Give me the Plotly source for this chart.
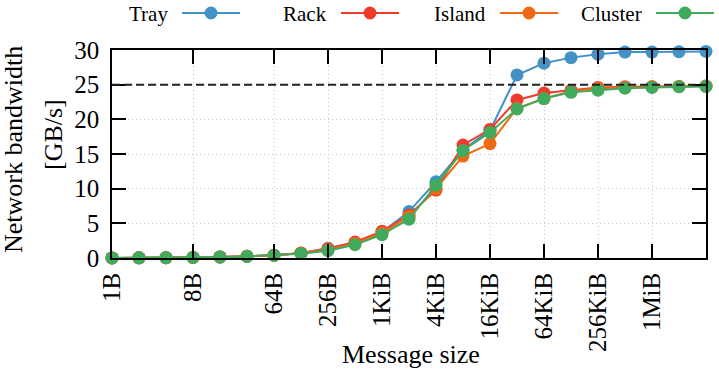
import plotly.graph_objects as go

# message sizes in bytes, 1B .. 4MiB
sizes = [2 ** i for i in range(23)]

tray = [0.01, 0.02, 0.04, 0.08, 0.15, 0.25, 0.4, 0.7, 1.4, 2.2, 3.75, 6.7,
        11.0, 15.6, 18.4, 26.4, 28.1, 28.9, 29.4, 29.7, 29.7, 29.75, 29.8]
rack = [0.01, 0.02, 0.04, 0.08, 0.15, 0.25, 0.4, 0.72, 1.35, 2.3, 3.85, 6.2,
        9.8, 16.3, 18.55, 22.8, 23.8, 24.2, 24.6, 24.7, 24.7, 24.75, 24.8]
island = [0.01, 0.02, 0.04, 0.08, 0.15, 0.25, 0.4, 0.7, 1.2, 2.1, 3.6, 6.0,
          10.0, 14.7, 16.5, 21.6, 23.0, 24.0, 24.5, 24.6, 24.7, 24.75, 24.8]
cluster = [0.01, 0.02, 0.04, 0.07, 0.14, 0.23, 0.37, 0.62, 1.06, 1.92, 3.37, 5.6,
           10.5, 15.5, 18.1, 21.5, 23.0, 23.9, 24.2, 24.5, 24.6, 24.7, 24.75]

series = [("Tray", tray, "#4292c6"), ("Rack", rack, "#ef3b2c"),
          ("Island", island, "#f16913"), ("Cluster", cluster, "#41ab5d")]

tick_vals = [1, 8, 64, 256, 1024, 4096, 16384, 65536, 262144, 1048576]
tick_text = ["1B", "8B", "64B", "256B", "1KiB", "4KiB", "16KiB", "64KiB", "256KiB", "1MiB"]
peak_line = 25

FONT = "Liberation Serif, Times New Roman, DejaVu Serif, serif"
W, H = 719, 375
# plot box in pixels: left 112, right 706, top 50, bottom 258
L, T = 112, 50
R, B = W - 706, H - 258
PW, PH = W - L - R, H - T - B

fig = go.Figure()
for name, vals, col in series:
    fig.add_trace(go.Scatter(
        x=sizes, y=vals, name=name, mode="lines+markers",
        line=dict(color=col, width=2),
        marker=dict(color=col, size=13),
        cliponaxis=False, showlegend=False,
    ))

# dashed reference line
fig.add_shape(type="line", xref="paper", x0=0, x1=1, yref="y", y0=peak_line, y1=peak_line,
              line=dict(color="#222222", width=2, dash="8px,4px"))

# pixel -> paper coords
def px_x(p):
    return (p - L) / PW

def px_y(p):
    return (H - B - p) / PH

# hand made legend: label on the left, line+marker on the right
leg_y = 13
leg_start = [182, 341, 500, 656]
for (name, vals, col), x0 in zip(series, leg_start):
    fig.add_shape(type="line", xref="paper", yref="paper",
                  x0=px_x(x0), x1=px_x(x0 + 58), y0=px_y(leg_y), y1=px_y(leg_y),
                  line=dict(color=col, width=2))
    fig.add_shape(type="circle", xref="paper", yref="paper",
                  xsizemode="pixel", ysizemode="pixel",
                  xanchor=px_x(x0 + 29), yanchor=px_y(leg_y),
                  x0=-6.5, x1=6.5, y0=-6.5, y1=6.5,
                  fillcolor=col, line=dict(width=0))
    fig.add_annotation(text=name, xref="paper", yref="paper",
                       x=px_x(x0 - 12), y=px_y(leg_y + 1), xanchor="right", yanchor="middle",
                       showarrow=False, font=dict(family=FONT, size=21, color="black"))

# axis titles
fig.add_annotation(text="Message size", xref="paper", yref="paper",
                   x=px_x(411), y=px_y(354), xanchor="center", yanchor="middle",
                   showarrow=False, font=dict(family=FONT, size=26, color="black"))
fig.add_annotation(text="Network bandwidth", xref="paper", yref="paper",
                   x=px_x(13), y=px_y(150), xanchor="center", yanchor="middle",
                   textangle=-90, showarrow=False, font=dict(family=FONT, size=26, color="black"))
fig.add_annotation(text="[GB/s]", xref="paper", yref="paper",
                   x=px_x(53), y=px_y(135), xanchor="center", yanchor="middle",
                   textangle=-90, showarrow=False, font=dict(family=FONT, size=26, color="black"))

axis_common = dict(
    showline=True, linecolor="black", linewidth=1.5, mirror="ticks",
    ticks="inside", ticklen=14, tickwidth=1.5, tickcolor="black",
    showgrid=True, gridcolor="#c4c4c4", gridwidth=1, griddash="1px,3px",
    zeroline=False, automargin=False,
    tickfont=dict(family=FONT, size=25, color="black"),
)

fig.update_layout(
    width=W, height=H,
    margin=dict(l=L, r=R, t=T, b=B, autoexpand=False),
    paper_bgcolor="white", plot_bgcolor="white",
    font=dict(family=FONT, color="black"),
    xaxis=dict(type="log", range=[0, 22 * 0.30103], tickvals=tick_vals, ticktext=tick_text,
               tickangle=-90, ticklabelstandoff=3, **axis_common),
    yaxis=dict(range=[0, 30], tickvals=[0, 5, 10, 15, 20, 25, 30],
               ticklabelstandoff=6, **axis_common),
)

# drop the default page margin so the figure fills the window
fig.write_html("out.html", config={"displayModeBar": False},
               post_script="document.body.style.margin='0';")
